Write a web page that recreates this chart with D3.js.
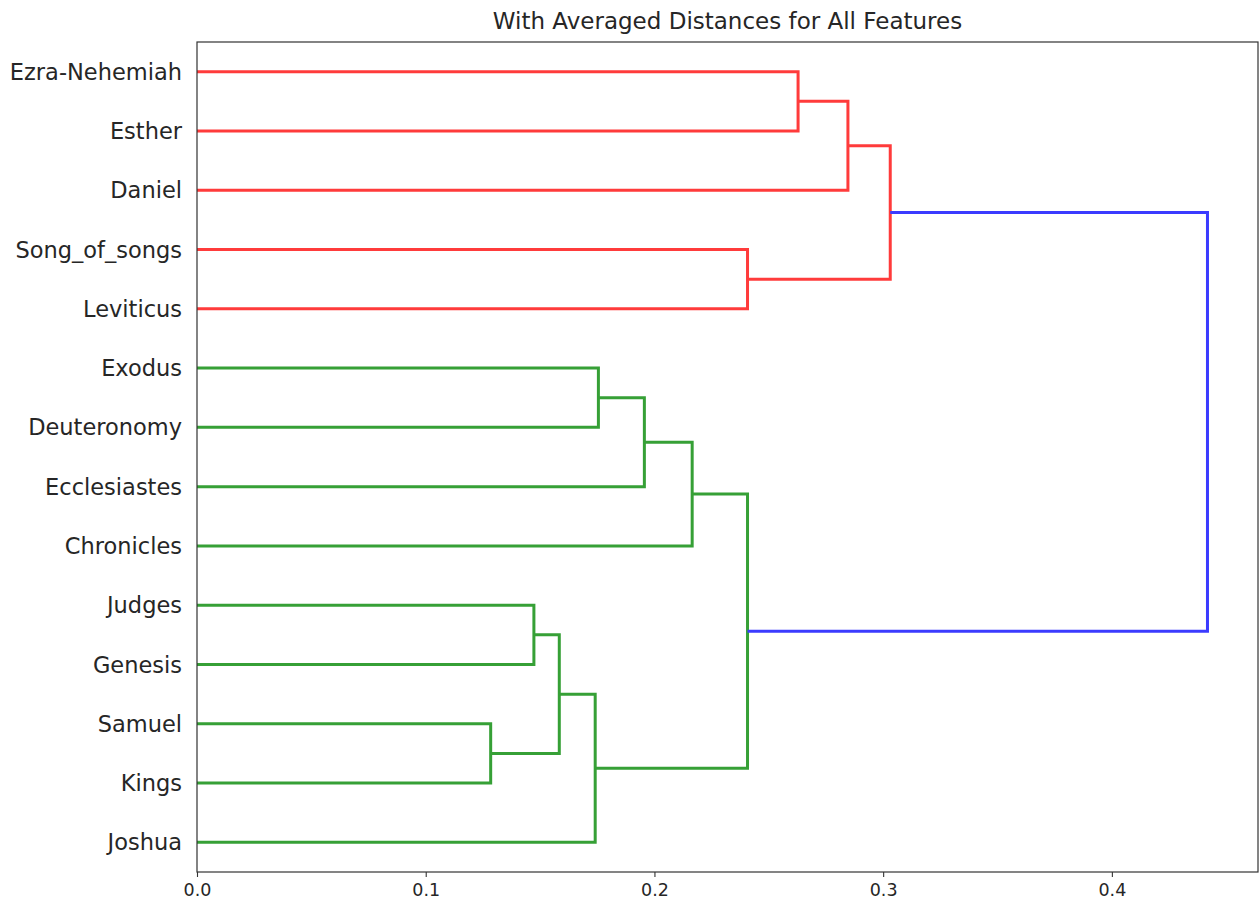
<!DOCTYPE html>
<html>
<head>
<meta charset="utf-8">
<script src="https://cdn.jsdelivr.net/npm/d3@7"></script>
<style>
  html, body { margin: 0; padding: 0; background: #fff; }
  text { font-family: "DejaVu Sans", sans-serif; fill: #262626; }
</style>
</head>
<body>
<svg id="chart" width="1259" height="909"></svg>
<script>
// Leaf labels, top to bottom
const leafLabels = ["Ezra-Nehemiah","Esther","Daniel","Song_of_songs","Leviticus",
  "Exodus","Deuteronomy","Ecclesiastes","Chronicles","Judges","Genesis","Samuel","Kings","Joshua"];
// Linkage: [childA, childB, distance]; new nodes numbered from 14 upward
const linkage = [
  [11, 12, 0.1284],
  [9, 10, 0.1473],
  [15, 14, 0.1584],
  [16, 13, 0.1741],
  [5, 6, 0.1755],
  [18, 7, 0.1956],
  [19, 8, 0.2165],
  [3, 4, 0.2407],
  [20, 17, 0.2407],
  [0, 1, 0.2628],
  [23, 2, 0.2846],
  [24, 21, 0.3031],
  [25, 22, 0.4418]
];
const xTicks = [0.0, 0.1, 0.2, 0.3, 0.4];
const colorThresholdFrac = 0.7;
const clusterColors = ["#ff3b3b", "#36a036"]; // red cluster, green cluster
const aboveColor = "#3b3bff";

const svg = d3.select("#chart");
svg.append("rect").attr("width", 1259).attr("height", 909).attr("fill", "#fff");

const m = {left: 197, right: 1258, top: 42, bottom: 872};
const n = leafLabels.length;
const maxH = d3.max(linkage, d => d[2]);
const x = d3.scaleLinear().domain([0, maxH * 1.05]).range([m.left, m.right]);
const y = d3.scaleLinear().domain([0, n * 10]).range([m.bottom, m.top]);

// node positions
const pos = {}; // id -> {y, h}
leafLabels.forEach((l, i) => { pos[i] = {y: 5 + 10 * (n - 1 - i), h: 0}; });
linkage.forEach((d, k) => {
  const id = n + k;
  pos[id] = {y: (pos[d[0]].y + pos[d[1]].y) / 2, h: d[2]};
});

// colours: clusters below threshold get a cluster colour
const threshold = colorThresholdFrac * maxH;
const nodeColor = {};
let ci = 0;
function assign(id, col) {
  if (id < n) return;
  const d = linkage[id - n];
  let c = col;
  if (c == null && d[2] < threshold) { c = clusterColors[ci++ % clusterColors.length]; }
  nodeColor[id] = c == null ? aboveColor : c;
  assign(d[0], c); assign(d[1], c);
}
assign(n + linkage.length - 1, null);

const g = svg.append("g");
linkage.forEach((d, k) => {
  const id = n + k;
  const a = pos[d[0]], b = pos[d[1]];
  const p = d3.path();
  p.moveTo(x(a.h), y(a.y));
  p.lineTo(x(d[2]), y(a.y));
  p.lineTo(x(d[2]), y(b.y));
  p.lineTo(x(b.h), y(b.y));
  g.append("path").attr("d", p.toString()).attr("fill", "none")
    .attr("stroke", nodeColor[id]).attr("stroke-width", 3)
    .attr("stroke-linejoin", "miter").attr("stroke-linecap", "butt");
});

// frame
svg.append("rect").attr("x", m.left).attr("y", m.top)
  .attr("width", m.right - m.left).attr("height", m.bottom - m.top)
  .attr("fill", "none").attr("stroke", "#333").attr("stroke-width", 1.2);

// x axis
const xAxis = d3.axisBottom(x).tickValues(xTicks).tickFormat(d3.format(".1f"))
  .tickSize(5).tickPadding(7);
const ax = svg.append("g").attr("transform", `translate(0,${m.bottom})`).call(xAxis);
ax.select(".domain").remove();
ax.selectAll("line").attr("stroke", "#333").attr("stroke-width", 1.1);
ax.selectAll("text").style("font-size", "17.5px").style("font-family", "DejaVu Sans").attr("fill", "#262626");

// leaf labels
svg.append("g").selectAll("text").data(leafLabels).join("text")
  .attr("x", m.left - 15)
  .attr("y", (d, i) => y(pos[i].y))
  .attr("dy", "0.36em")
  .attr("text-anchor", "end")
  .style("font-size", "22.5px")
  .text(d => d);

// title
svg.append("text").attr("x", (m.left + m.right) / 2).attr("y", 29)
  .attr("text-anchor", "middle").style("font-size", "23px")
  .text("With Averaged Distances for All Features");
</script>
</body>
</html>
